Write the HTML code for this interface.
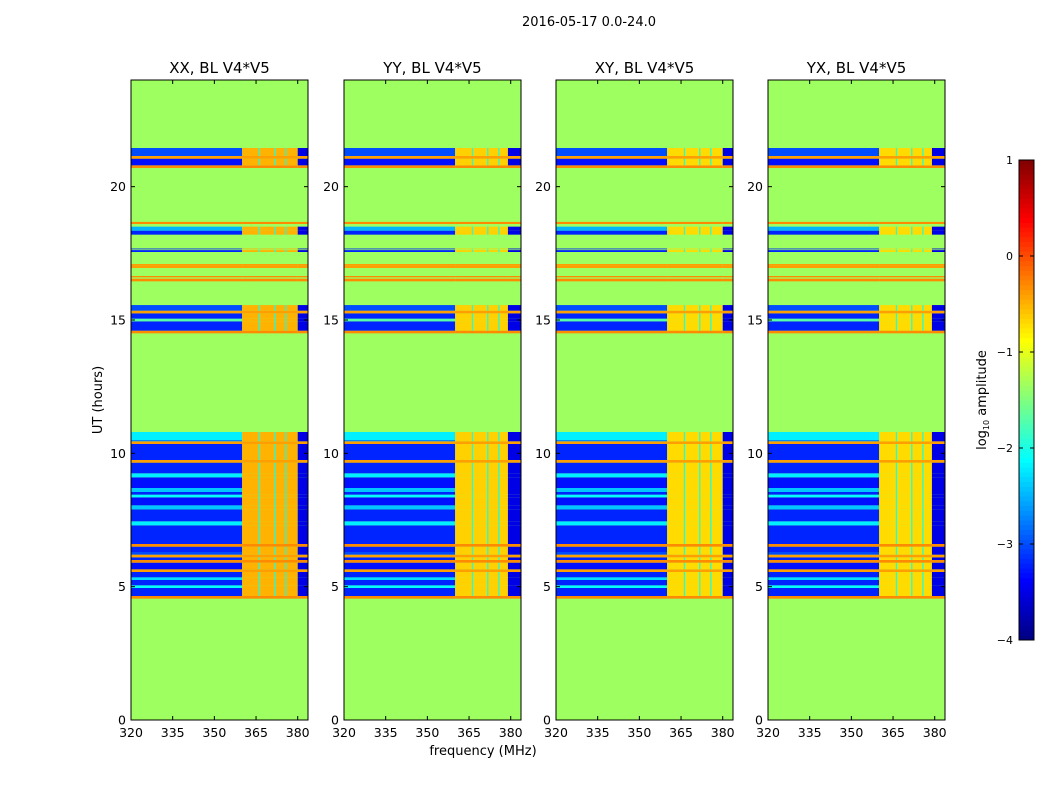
<!DOCTYPE html>
<html><head><meta charset="utf-8">
<style>
html,body{margin:0;padding:0;background:#fff;}
svg text{font-family:"DejaVu Sans","Liberation Sans",sans-serif;fill:#000;}
</style></head>
<body>
<svg id="fig" width="1050" height="800" viewBox="0 0 1050 800" xmlns="http://www.w3.org/2000/svg">
<rect width="1050" height="800" fill="#fff"/>
<text x="589" y="26" font-size="13" text-anchor="middle">2016-05-17 0.0-24.0</text>
<text transform="translate(102,400) rotate(-90)" font-size="13" text-anchor="middle">UT (hours)</text>
<text x="483" y="755" font-size="13" text-anchor="middle">frequency (MHz)</text>
<g id="panels"></g>
<g id="cbar"></g>
</svg>
<script>
// ---- data ----
const panelTitles = ["XX, BL V4*V5","YY, BL V4*V5","XY, BL V4*V5","YX, BL V4*V5"];
const xTicks = [320,335,350,365,380];
const yTicks = [0,5,10,15,20];
const cbarTicks = [1,0,-1,-2,-3,-4];
const cbarTickLabels = ["1","0","\u22121","\u22122","\u22123","\u22124"];
const backgroundLevel = -1.35;
// rows: [utStart, utEnd, log10 amplitude]
const rowStart = [4.55,4.65,4.95,5.05,5.25,5.35,5.55,5.65,5.9,6.0,6.1,6.2,6.3,6.5,6.6,7.3,7.45,7.9,8.05,8.35,8.45,8.55,8.7,9.1,9.25,9.65,9.75,10.35,10.45,10.5,
  14.5,14.6,14.95,15.05,15.25,15.35,16.45,16.6,16.95,17.05,17.55,17.65,18.2,18.35,18.6,20.7,20.8,21.05,21.15];
const rowEnd   = [4.65,4.95,5.05,5.25,5.35,5.55,5.65,5.9,6.0,6.1,6.2,6.3,6.5,6.6,7.3,7.45,7.9,8.05,8.35,8.45,8.55,8.7,9.1,9.25,9.65,9.75,10.35,10.45,10.5,10.8,
  14.6,14.95,15.05,15.25,15.35,15.56,16.55,16.65,17.05,17.1,17.62,17.68,18.35,18.5,18.68,20.8,21.05,21.15,21.45];
const rowLevel = [-0.3,-3.2,-2.1,-3.2,-2.3,-3.2,-0.4,-3.3,-0.3,-3.2,-0.4,-3.0,-3.2,-0.3,-3.2,-2.2,-3.2,-2.4,-3.3,-2.1,-3.2,-2.4,-3.3,-2.2,-3.2,-0.4,-3.2,-0.4,-2.7,-2.2,
  -0.3,-3.2,-1.7,-3.2,-0.4,-3.0,-0.3,-0.3,-0.4,-0.4,-3.2,-3.2,-3.2,-2.5,-0.3,-0.3,-3.3,-0.4,-3.0];
// frequency band with enhanced amplitude
const bandStart = [360, 360, 360, 360];
const bandEnd   = [380, 379, 380, 379];
const bandLevel = [-0.5, -0.65, -0.7, -0.7];
const notchFreq = [366, 371.5, 375.5];
const notchLevel = -2.0;
const edgeLevel = -3.5;
// ---- axes ----
const panelX0 = [131,344,556,768];
const panelW = 177, plotTop = 80, plotBot = 720;
const fMin = 320, fMax = 383.7, utMin = 0, utMax = 24;
const cbTop = 160, cbBot = 640, cbX = 1019, cbW = 15, cMin = -4, cMax = 1;
const NS = "http://www.w3.org/2000/svg";
function xs(p,f){return panelX0[p] + (f-fMin)/(fMax-fMin)*panelW;}
function ys(u){return plotBot - (u-utMin)/(utMax-utMin)*(plotBot-plotTop);}
function jet(v){
  let t=(v-cMin)/(cMax-cMin); t=Math.max(0,Math.min(1,t));
  function c(x){return Math.max(0,Math.min(1,x));}
  const r=c(Math.min(4*t-1.5,-4*t+4.5)), g=c(Math.min(4*t-0.5,-4*t+3.5)), b=c(Math.min(4*t+0.5,-4*t+2.5));
  return "rgb("+Math.round(r*255)+","+Math.round(g*255)+","+Math.round(b*255)+")";
}
function el(tag,attrs,parent){const e=document.createElementNS(NS,tag);for(const k in attrs)e.setAttribute(k,attrs[k]);parent.appendChild(e);return e;}
const panels=document.getElementById("panels");
for(let p=0;p<4;p++){
  const g=el("g",{},panels);
  
  
  const bg=el("rect",{x:panelX0[p],y:plotTop,width:panelW,height:plotBot-plotTop,fill:jet(backgroundLevel)},g);
  
  
  for(let i=0;i<rowStart.length;i++){
    const y1=ys(rowEnd[i]), h=ys(rowStart[i])-y1;
    const lv=rowLevel[i];
    const segs=[[fMin,bandStart[p],lv],[bandStart[p],bandEnd[p],Math.max(lv,bandLevel[p])]];
    if(bandEnd[p]<fMax) segs.push([bandEnd[p],fMax,lv>-1?lv:Math.min(lv,edgeLevel)]);
    for(const s of segs){
      const r=el("rect",{x:xs(p,s[0]),y:y1,width:xs(p,s[1])-xs(p,s[0]),height:h,fill:jet(s[2])},g);
      
      
    }
    if(lv<-1){
      for(const nf of notchFreq){
        const r=el("rect",{x:xs(p,nf),y:y1,width:1.3,height:h,fill:jet(notchLevel)},g);
        
        
      }
    }
  }
  const fr=el("rect",{x:panelX0[p],y:plotTop,width:panelW,height:plotBot-plotTop,fill:"none",stroke:"#000","stroke-width":1},g);
  
  
  const t=el("text",{x:panelX0[p]+panelW/2,y:73,"font-size":15,"text-anchor":"middle"},g);
  t.textContent=panelTitles[p];
  
  
  for(let i=0;i<xTicks.length;i++){
    const x=xs(p,xTicks[i]);
    el("line",{x1:x,x2:x,y1:plotBot,y2:plotBot-4,stroke:"#000"},g);
    el("line",{x1:x,x2:x,y1:plotTop,y2:plotTop+4,stroke:"#000"},g);
    const tl=el("text",{x:x,y:plotBot+17,"font-size":12.5,"text-anchor":"middle"},g);
    tl.textContent=xTicks[i];
    
    
  }
  for(let i=0;i<yTicks.length;i++){
    const y=ys(yTicks[i]);
    el("line",{x1:panelX0[p],x2:panelX0[p]+4,y1:y,y2:y,stroke:"#000"},g);
    el("line",{x1:panelX0[p]+panelW,x2:panelX0[p]+panelW-4,y1:y,y2:y,stroke:"#000"},g);
    const tl=el("text",{x:panelX0[p]-5,y:y+4.5,"font-size":12.5,"text-anchor":"end"},g);
    tl.textContent=yTicks[i];
    
    
  }
}
// colorbar
const cb=document.getElementById("cbar");


const N=100;
for(let i=0;i<N;i++){
  const v=cMin+(i+0.5)/N*(cMax-cMin);
  const y=cbBot-(i+1)/N*(cbBot-cbTop);
  el("rect",{x:cbX,y:y,width:cbW,height:(cbBot-cbTop)/N+0.5,fill:jet(v)},cb);
}
el("rect",{x:cbX,y:cbTop,width:cbW,height:cbBot-cbTop,fill:"none",stroke:"#000"},cb);
for(let i=0;i<cbarTicks.length;i++){
  const y=cbBot-(cbarTicks[i]-cMin)/(cMax-cMin)*(cbBot-cbTop);
  el("line",{x1:cbX,x2:cbX+4,y1:y,y2:y,stroke:"#000"},cb);
  el("line",{x1:cbX+cbW,x2:cbX+cbW-4,y1:y,y2:y,stroke:"#000"},cb);
  const tl=el("text",{x:cbX-6,y:y+4,"font-size":11,"text-anchor":"end"},cb);
  tl.textContent=cbarTickLabels[i];
  
  
}
const lab=el("text",{transform:"translate(986,400) rotate(-90)","font-size":13,"text-anchor":"middle"},cb);


lab.innerHTML='log<tspan font-size="8" dy="3">10</tspan><tspan dy="-3"> amplitude</tspan>';
</script>
</body></html>
